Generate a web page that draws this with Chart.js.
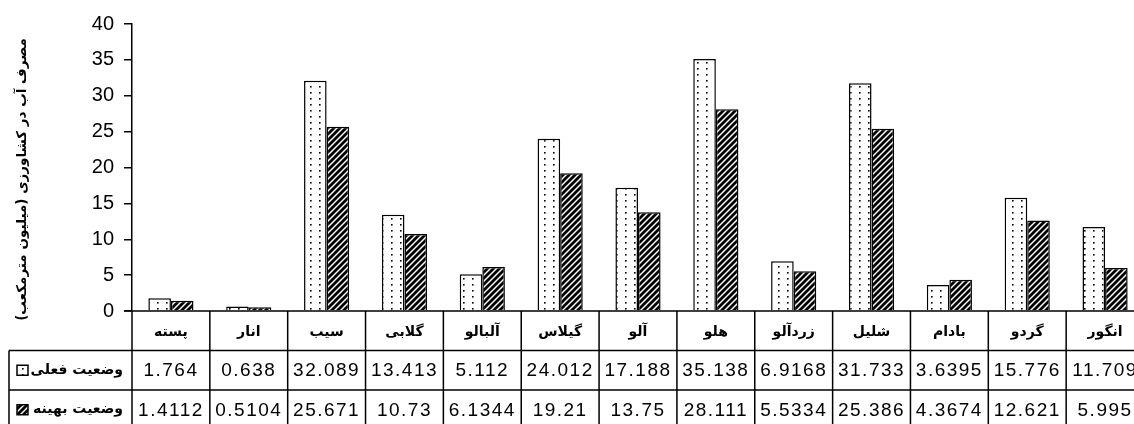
<!DOCTYPE html>
<html lang="fa">
<head>
<meta charset="UTF-8">
<title>مصرف آب در کشاورزی</title>
<script src="https://cdn.jsdelivr.net/npm/chart.js"></script>
<style>
  html, body { margin: 0; padding: 0; background: #fff; overflow: hidden; }
  #wrap { width: 1150px; height: 424px; }
</style>
</head>
<body>
<div id="wrap"><canvas id="myChart" dir="rtl"></canvas></div>
<script>
// داده ها
const categories = ['پسته', 'انار', 'سیب', 'گلابی', 'آلبالو', 'گیلاس', 'آلو', 'هلو', 'زردآلو', 'شلیل', 'بادام', 'گردو', 'انگور'];
const currentUse = [1.764, 0.638, 32.089, 13.413, 5.112, 24.012, 17.188, 35.138, 6.9168, 31.733, 3.6395, 15.776, 11.709];
const optimalUse = [1.4112, 0.5104, 25.671, 10.73, 6.1344, 19.21, 13.75, 28.111, 5.5334, 25.386, 4.3674, 12.621, 5.995];
const seriesNames = ['وضعیت فعلی', 'وضعیت بهینه'];
const yTitle = 'مصرف آب در کشاورزی (میلیون مترمکعب)';
const yMin = 0, yMax = 40, yStep = 5;

// الگوها (نقطه ای و هاشور)
function makeDots() {
  const c = document.createElement('canvas');
  c.width = 9; c.height = 6;
  const g = c.getContext('2d');
  g.fillStyle = '#fff';
  g.fillRect(0, 0, 9, 6);
  g.fillStyle = '#000';
  g.fillRect(4, 2, 1.6, 1.6);
  return g.createPattern(c, 'repeat');
}
function makeHatch() {
  const s = 6;
  const c = document.createElement('canvas');
  c.width = s; c.height = s;
  const g = c.getContext('2d');
  g.fillStyle = '#fff';
  g.fillRect(0, 0, s, s);
  g.strokeStyle = '#000';
  g.lineWidth = 2.8;
  g.beginPath();
  g.moveTo(-1, 1); g.lineTo(1, -1);
  g.moveTo(0, s); g.lineTo(s, 0);
  g.moveTo(s - 1, s + 1); g.lineTo(s + 1, s - 1);
  g.stroke();
  return g.createPattern(c, 'repeat');
}
const patterns = [makeDots(), makeHatch()];
const seriesValues = [currentUse, optimalUse];

// جدول داده زیر نمودار + عنوان محور
const dataTable = {
  id: 'dataTable',
  afterDraw(chart) {
    const ctx = chart.ctx;
    const xs = chart.scales.x;
    const area = chart.chartArea;
    const n = categories.length;
    const colW = (xs.right - xs.left) / n;
    const rowH = 39.5;
    const y0 = area.bottom;
    const y1 = y0 + rowH;
    const y2 = y1 + rowH;
    const y3 = y2 + rowH;
    const tableLeft = 9;

    ctx.save();
    ctx.direction = 'rtl';
    ctx.strokeStyle = '#000';
    ctx.lineWidth = 1.5;
    ctx.beginPath();
    ctx.moveTo(xs.left - 8, y0); ctx.lineTo(xs.right, y0);
    ctx.moveTo(tableLeft, y1); ctx.lineTo(xs.right, y1);
    ctx.moveTo(tableLeft, y2); ctx.lineTo(xs.right, y2);
    ctx.moveTo(tableLeft, y1); ctx.lineTo(tableLeft, y3);
    for (let i = 0; i <= n; i++) {
      const x = xs.left + i * colW;
      ctx.moveTo(x, y0); ctx.lineTo(x, y3);
    }
    ctx.stroke();

    ctx.fillStyle = '#000';
    ctx.textAlign = 'center';
    ctx.textBaseline = 'middle';
    ctx.font = 'bold 14px "DejaVu Sans"';
    categories.forEach(function (c, i) {
      ctx.fillText(c, xs.getPixelForValue(i), y0 + rowH / 2 + 2);
    });

    ctx.font = '19px "Liberation Sans"';
    ctx.letterSpacing = '1.5px';
    seriesValues.forEach(function (vals, s) {
      const yc = (s === 0 ? y1 : y2) + rowH / 2;
      vals.forEach(function (v, i) {
        ctx.fillText(String(v), xs.getPixelForValue(i), yc + 1);
      });
    });
    ctx.letterSpacing = '0px';

    ctx.textAlign = 'right';
    ctx.font = 'bold 14px "DejaVu Sans"';
    seriesNames.forEach(function (name, s) {
      const yc = (s === 0 ? y1 : y2) + rowH / 2;
      ctx.fillText(name, xs.left - 9, yc);
      ctx.fillStyle = patterns[s];
      ctx.fillRect(17, yc - 5, 11, 10);
      ctx.strokeRect(17, yc - 5, 11, 10);
      ctx.fillStyle = '#000';
    });

    // عنوان محور عمودی
    ctx.translate(22, (area.top + area.bottom) / 2 + 12);
    ctx.rotate(-Math.PI / 2);
    ctx.textAlign = 'center';
    ctx.font = 'bold 13.5px "DejaVu Sans"';
    ctx.fillText(yTitle, 0, 0);
    ctx.restore();
  }
};

const ctx = document.getElementById('myChart');
new Chart(ctx, {
  type: 'bar',
  data: {
    labels: categories,
    datasets: [{
      label: seriesNames[0],
      data: currentUse,
      backgroundColor: patterns[0],
      borderColor: '#000',
      borderWidth: 1.5
    }, {
      label: seriesNames[1],
      data: optimalUse,
      backgroundColor: patterns[1],
      borderColor: '#000',
      borderWidth: 1.5
    }]
  },
  options: {
    responsive: true,
    maintainAspectRatio: false,
    animation: false,
    layout: { padding: { left: 0, top: 24, right: 6, bottom: 113 } },
    datasets: { bar: { categoryPercentage: 0.58, barPercentage: 1 } },
    plugins: { legend: { display: false }, tooltip: { enabled: false } },
    scales: {
      x: { display: false },
      y: {
        min: yMin,
        max: yMax,
        afterFit: function (scale) { scale.width = 132; },
        ticks: {
          stepSize: yStep,
          color: '#000',
          padding: 10,
          font: { family: 'Liberation Sans', size: 20 }
        },
        grid: { drawOnChartArea: false, drawTicks: true, tickLength: 8, color: '#000', lineWidth: 1.5 },
        border: { display: true, color: '#000', width: 1.5 }
      }
    }
  },
  plugins: [dataTable]
});
</script>
</body>
</html>
